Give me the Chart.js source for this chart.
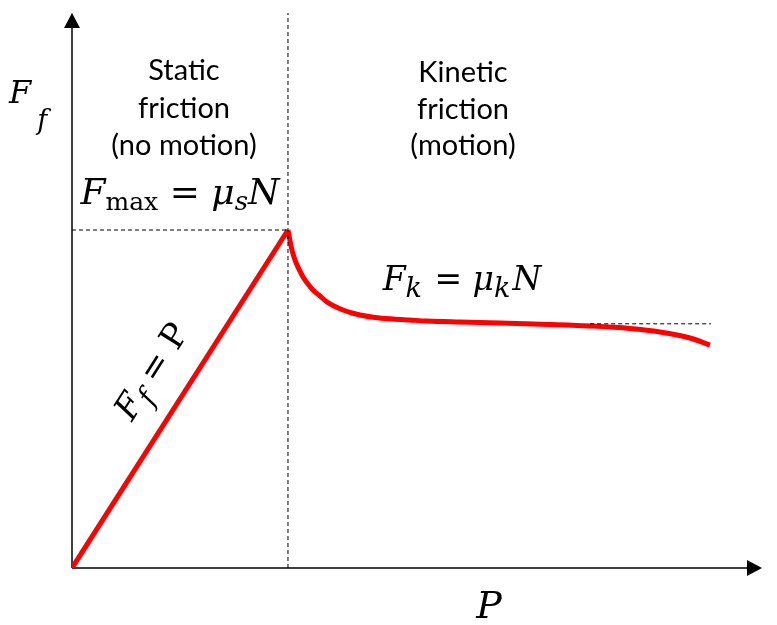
<!DOCTYPE html>
<html>
<head>
<meta charset="utf-8">
<script src="https://cdn.jsdelivr.net/npm/chart.js@4"></script>
<style>
  html, body { margin: 0; padding: 0; background: #fff; }
  canvas { display: block; }
</style>
</head>
<body>
<canvas id="frictionChart" width="777" height="625"></canvas>
<script>
// P (applied force) and Ff (friction force), arbitrary units 0..100
const staticP = [0, 31.3];
const staticF = [0, 60.9];

const kineticP = [31.30, 31.52, 31.81, 32.17, 32.61, 33.04, 33.48, 34.20, 34.93, 35.94, 36.96, 38.12, 39.28,
                  40.58, 41.74, 43.91, 46.52, 48.99, 51.45, 56.23, 62.03, 69.28, 75.07, 80.87, 85.22, 89.57, 92.46];
const kineticF = [60.90, 59.46, 57.66, 56.04, 54.59, 53.51, 52.43, 51.17, 50.09, 49.01, 47.93, 47.12, 46.49,
                  45.95, 45.59, 45.14, 44.86, 44.68, 44.50, 44.32, 44.14, 43.87, 43.60, 43.15, 42.52, 41.44, 40.18];

const fMax = 60.9;       // mu_s N
const fKinetic = 44.0;   // mu_k N
const fKineticFrom = 75.1;
const fKineticTo = 92.6;
const pMax = 100;
const fMaxAxis = 100;

const toPoints = (xs, ys) => xs.map((x, i) => ({ x: x, y: ys[i] }));

const dashed = {
    borderColor: '#000',
    borderWidth: 1,
    borderDash: [4, 3],
    pointRadius: 0,
    fill: false
};

const MATH = '"DejaVu Serif"';

// text helper: runs of math-like text (italic / upright / subscript)
function runFont(r) {
    return (r.it ? 'italic ' : '') + r.s + 'px ' + MATH;
}
function mathWidth(ctx, runs) {
    let w = 0;
    runs.forEach(r => {
        ctx.font = runFont(r);
        w += ctx.measureText(r.t).width + (r.gap || 0);
    });
    return w;
}
function drawMath(ctx, runs, x, y, align) {
    // y = baseline; x = centre (or left when align === 'left')
    let cx = align === 'left' ? x : x - mathWidth(ctx, runs) / 2;
    ctx.textAlign = 'left';
    ctx.textBaseline = 'alphabetic';
    runs.forEach(r => {
        ctx.font = runFont(r);
        ctx.fillText(r.t, cx, y + (r.dy || 0));
        cx += ctx.measureText(r.t).width + (r.gap || 0);
    });
}

const diagram = {
    id: 'diagram',
    beforeDatasetsDraw(chart) {
        const { ctx, scales: { x, y } } = chart;
        const x0 = x.getPixelForValue(0), y0 = y.getPixelForValue(0);
        const xe = x.getPixelForValue(pMax), ye = y.getPixelForValue(fMaxAxis);
        ctx.save();
        ctx.strokeStyle = '#000';
        ctx.fillStyle = '#000';
        ctx.lineWidth = 1.5;
        ctx.beginPath();
        ctx.moveTo(x0, y0);
        ctx.lineTo(xe - 10, y0);
        ctx.moveTo(x0, y0);
        ctx.lineTo(x0, ye + 10);
        ctx.stroke();
        // arrow heads
        ctx.beginPath();
        ctx.moveTo(xe, y0);
        ctx.lineTo(xe - 15, y0 - 8);
        ctx.lineTo(xe - 15, y0 + 8);
        ctx.closePath();
        ctx.fill();
        ctx.beginPath();
        ctx.moveTo(x0, ye);
        ctx.lineTo(x0 - 8, ye + 15);
        ctx.lineTo(x0 + 8, ye + 15);
        ctx.closePath();
        ctx.fill();
        ctx.restore();
    },
    afterDatasetsDraw(chart) {
        const { ctx, scales: { x, y } } = chart;
        ctx.save();
        ctx.fillStyle = '#000';

        // region captions
        ctx.font = '29px Lato';
        ctx.textAlign = 'center';
        ctx.textBaseline = 'alphabetic';
        [['Static', 80], ['friction', 118], ['(no motion)', 155]].forEach(([t, by]) => ctx.fillText(t, 184, by));
        [['Kinetic', 82], ['friction', 119], ['(motion)', 155]].forEach(([t, by]) => ctx.fillText(t, 463, by));

        // axis titles
        drawMath(ctx, [{ t: 'F', it: true, s: 32, gap: 6 }, { t: 'f', it: true, s: 27, dy: 26 }], 9, 103, 'left');
        drawMath(ctx, [{ t: 'P', it: true, s: 38 }], 489, 618);

        // equations
        drawMath(ctx, [
            { t: 'F', it: true, s: 36 }, { t: 'max', s: 25, dy: 6 }, { t: ' = ', s: 36 },
            { t: 'μ', it: true, s: 36 }, { t: 's', it: true, s: 26, dy: 6 }, { t: 'N', it: true, s: 36 }
        ], 180, 204);
        drawMath(ctx, [
            { t: 'F', it: true, s: 33 }, { t: 'k', it: true, s: 27, dy: 7, gap: 2 }, { t: ' = ', s: 33 },
            { t: 'μ', it: true, s: 33 }, { t: 'k', it: true, s: 27, dy: 7, gap: 2 }, { t: 'N', it: true, s: 33 }
        ], 462, 290);

        // Ff = P along the static line
        const ax = x.getPixelForValue(staticP[0]), ay = y.getPixelForValue(staticF[0]);
        const bx = x.getPixelForValue(staticP[1]), by = y.getPixelForValue(staticF[1]);
        const dx = bx - ax, dy = by - ay, len = Math.hypot(dx, dy);
        const ang = Math.atan2(dy, dx);
        const t = 0.52, off = 28;
        const px = ax + dx * t + (dy / len) * off;
        const py = ay + dy * t - (dx / len) * off;
        ctx.translate(px, py);
        ctx.rotate(ang);
        drawMath(ctx, [
            { t: 'F', it: true, s: 34 }, { t: 'f', it: true, s: 28, dy: 9 }, { t: ' = ', s: 34 }, { t: 'P', s: 34 }
        ], 0, 0);
        ctx.restore();
    }
};

new Chart(document.getElementById('frictionChart'), {
    type: 'line',
    data: {
        datasets: [
            Object.assign({ data: [{ x: staticP[1], y: 0 }, { x: staticP[1], y: fMaxAxis }] }, dashed),
            Object.assign({ data: [{ x: 0, y: fMax }, { x: staticP[1], y: fMax }] }, dashed),
            Object.assign({ data: [{ x: fKineticFrom, y: fKinetic }, { x: fKineticTo, y: fKinetic }] }, dashed),
            {
                data: toPoints(staticP, staticF),
                borderColor: '#ff0000',
                borderWidth: 5,
                pointRadius: 0
            },
            {
                data: toPoints(kineticP, kineticF),
                borderColor: '#ff0000',
                borderWidth: 5,
                pointRadius: 0,
                cubicInterpolationMode: 'monotone'
            }
        ]
    },
    options: {
        responsive: false,
        animation: false,
        layout: { padding: { left: 72, right: 15, top: 13, bottom: 57 } },
        plugins: { legend: { display: false }, tooltip: { enabled: false } },
        scales: {
            x: { type: 'linear', min: 0, max: pMax, display: false },
            y: { type: 'linear', min: 0, max: fMaxAxis, display: false }
        }
    },
    plugins: [diagram]
});
</script>
</body>
</html>
